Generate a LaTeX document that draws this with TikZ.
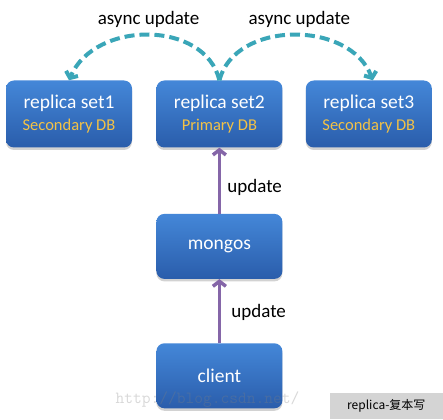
\documentclass[tikz,border=0pt]{standalone}
\usepackage{fontspec}
\setmainfont{Carlito}
\newfontfamily\cjk{Noto Sans CJK SC}
\usetikzlibrary{positioning,shadows,arrows.meta}
\definecolor{boxtop}{HTML}{4487D8}
\definecolor{boxbottom}{HTML}{2A5DAB}
\definecolor{dbcolor}{HTML}{F3C246}
\definecolor{syncline}{HTML}{3AA6B8}
\definecolor{updline}{HTML}{8566A8}
\definecolor{notegray}{HTML}{D4D4D4}
\newcommand{\dbrole}[1]{% role of the replica set
{\fontsize{16.5}{19}\selectfont\color{dbcolor}#1}}
\tikzstyle{dbbox} = [
    rectangle,
    rounded corners=8pt,
    top color=boxtop,
    bottom color=boxbottom,
    minimum width=126pt,
    minimum height=67pt,
    text=white,
    align=center,
    font=\fontsize{19.5}{22}\selectfont,
    drop shadow={shadow xshift=0pt, shadow yshift=-2.5pt, opacity=0.35}
    ]
\tikzstyle{syncarrow} = [
    draw=syncline,
    line width=4pt,
    dash pattern=on 10pt off 5pt,
    -{Straight Barb[length=5pt,width=13pt]}
    ]
\tikzstyle{updarrow} = [
    draw=updline,
    line width=3.5pt,
    -{Straight Barb[length=5pt,width=13pt]}
    ]
\tikzstyle{arrowlabel} = [
    text=black,
    font=\fontsize{19}{22}\selectfont
    ]

\begin{document}
\begin{tikzpicture}[x=1pt,y=-1pt]
\useasboundingbox[fill=white] (0,0) rectangle (443,419);

\node [dbbox] (set1) at (69,114) {replica set1\\\dbrole{Secondary DB}};
\node [dbbox, right=24pt of set1] (set2) {replica set2\\\dbrole{Primary DB}};
\node [dbbox, right=23pt of set2] (set3) {replica set3\\\dbrole{Secondary DB}};
\node [dbbox, minimum height=65pt, below=66pt of set2] (mongos) {mongos};
\node [dbbox, minimum height=65pt, below=64pt of mongos] (client) {client};

\draw [updarrow] (mongos) -- (set2) node[arrowlabel, pos=0.4, right=3pt] {update};
\draw [updarrow] (client) -- (mongos) node[arrowlabel, pos=0.48, right=7pt] {update};

\draw [syncarrow] (set2.north) .. controls (205,20) and (95,20) .. (set1.north)
    node[arrowlabel, midway, above=2pt] {async update};
\draw [syncarrow] (set2.north) .. controls (235,20) and (350,20) .. ([xshift=4pt]set3.north)
    node[arrowlabel, midway, above=2pt, xshift=6pt] {async update};

\node [text=gray, opacity=0.3, anchor=west, font=\ttfamily\fontsize{17}{17}\selectfont] (mark) at (112,400) {http://blog.csdn.net/};
\node [fill=notegray, minimum width=113pt, minimum height=26pt, anchor=south east,
    font=\cjk\fontsize{12}{14}\selectfont] (note) at (443,419) {replica-复本写};
\end{tikzpicture}
\end{document}
